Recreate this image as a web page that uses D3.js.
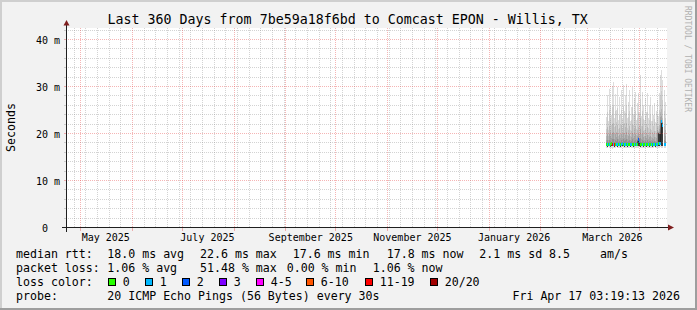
<!DOCTYPE html>
<html>
<head>
<meta charset="utf-8">
<script src="https://cdn.jsdelivr.net/npm/d3@7"></script>
<style>
  html, body { margin: 0; padding: 0; background: #f2f2f2; }
  svg { display: block; }
  text { font-family: "DejaVu Sans Mono", monospace; fill: #000; }
</style>
</head>
<body>
<svg id="chart"></svg>
<script>
const width = 697; // whole image
const height = 310;

// graph time range (360 days ending at the timestamp)
const endTime = new Date(Date.UTC(2026, 3, 17, 3, 19, 13));
const startTime = new Date(endTime.getTime() - 360 * 864e5);
// first column with data, one column per rrd step
const dataStart = new Date(Date.UTC(2026, 2, 12, 3, 19, 13));
const stepMs = 0.6 * 864e5;

// smoke: sorted ping values per column (ms), null = no data
const pingMax = [23.7, 28.3, 22.8, 29.5, 26.0, 24.1, 30.2, 31.0, 23.5, 28.6,
  25.2, 30.1, 22.9, 27.8, 24.3, 29.4, 23.1, 30.4, 25.0, 28.2,
  30.6, 23.4, 26.9, 29.4, 22.7, 25.8, 30.0, 24.2, 27.6, 29.0,
  23.0, 26.5, 28.7, 24.4, 32.6, 23.9, 29.0, 26.1, 22.9, 27.6,
  24.6, 28.7, 23.3, 26.2, 27.9, 22.8, 25.9, 24.1, 26.5, 22.6,
  25.0, 27.2, 23.8, 28.7, 32.6, 33.6, 31.5, null, 29.4, 26.9];
const ping19 = [21.0, 24.6, 20.9, 25.1, 23.2, 21.9, 25.8, 26.1, 21.4, 24.8,
  22.5, 25.6, 21.0, 24.1, 22.0, 25.2, 21.2, 25.9, 22.4, 24.5,
  26.0, 21.3, 23.6, 25.0, 20.8, 22.9, 25.7, 21.9, 24.0, 24.9,
  21.1, 23.4, 24.7, 22.0, 27.5, 21.6, 24.9, 23.1, 20.9, 23.9,
  22.1, 24.6, 21.2, 23.0, 24.1, 20.9, 22.8, 21.8, 23.2, 20.7,
  22.3, 24.0, 21.6, 25.1, 28.0, 29.1, 27.2, null, 25.0, 23.5];
const ping18 = [19.6, 21.5, 19.5, 21.8, 20.8, 20.1, 22.1, 22.4, 19.9, 21.6,
  20.4, 22.0, 19.6, 21.2, 20.1, 21.9, 19.7, 22.2, 20.3, 21.4,
  22.3, 19.8, 20.9, 21.8, 19.5, 20.6, 22.0, 20.0, 21.1, 21.7,
  19.7, 20.8, 21.5, 20.1, 23.4, 19.9, 21.7, 20.6, 19.5, 21.0,
  20.2, 21.4, 19.7, 20.5, 21.1, 19.4, 20.4, 19.9, 20.6, 19.3,
  20.1, 21.5, 20.6, 21.9, 24.6, 25.3, 23.4, null, 21.8, 20.8];
const ping17 = [18.8, 19.9, 18.8, 20.1, 19.5, 19.1, 20.3, 20.5, 19.0, 19.9,
  19.3, 20.2, 18.9, 19.7, 19.1, 20.1, 18.9, 20.3, 19.2, 19.8,
  20.4, 19.0, 19.5, 20.1, 18.8, 19.4, 20.2, 19.1, 19.6, 20.0,
  18.9, 19.5, 19.9, 19.1, 21.0, 19.0, 20.0, 19.4, 18.8, 19.6,
  19.2, 19.8, 18.9, 19.3, 19.6, 18.7, 19.2, 19.0, 19.4, 18.6,
  19.1, 20.8, 20.4, 21.0, 23.6, 23.8, 21.6, null, 20.1, 19.6];
const ping16 = [18.3, 18.7, 18.3, 18.8, 18.6, 18.4, 18.9, 19.0, 18.4, 18.7,
  18.5, 18.9, 18.3, 18.6, 18.4, 18.8, 18.3, 18.9, 18.5, 18.7,
  18.9, 18.4, 18.6, 18.8, 18.3, 18.5, 18.9, 18.4, 18.6, 18.7,
  18.3, 18.6, 19.4, 18.9, 19.2, 18.4, 18.7, 18.5, 18.3, 18.6,
  18.4, 18.7, 18.3, 18.5, 18.6, 18.2, 18.5, 18.4, 18.5, 18.2,
  18.4, 20.5, 20.3, 20.4, 23.0, 23.0, 19.5, null, 18.8, 18.6];
// innermost pings around the median (darkest smoke)
const ping12 = [17.9, 17.8, 17.9, 17.9, 17.8, 18.0, 17.9, 17.9, 17.8, 17.9,
  17.9, 17.8, 17.9, 17.9, 17.8, 17.9, 18.0, 17.9, 17.8, 17.9,
  17.9, 17.8, 17.9, 17.9, 17.8, 17.9, 17.9, 17.8, 17.9, 17.9,
  17.9, 17.9, 19.0, 18.5, 17.8, 17.9, 17.9, 17.8, 17.9, 17.9,
  17.8, 17.9, 17.9, 17.8, 17.9, 17.9, 17.8, 17.9, 17.9, 17.8,
  17.9, 18.0, 20.3, 19.9, 20.1, 22.6, 22.0, null, 17.9, 17.9];
const pingLow = [17.4, 17.3, 17.4, 17.4, 17.3, 17.5, 17.4, 17.4, 17.3, 17.4,
  17.4, 17.3, 17.4, 17.4, 17.3, 17.4, 17.5, 17.4, 17.3, 17.4,
  17.4, 17.3, 17.4, 17.4, 17.3, 17.4, 17.4, 17.3, 17.4, 17.4,
  17.4, 17.4, 17.5, 17.4, 17.3, 17.4, 17.4, 17.3, 17.4, 17.4,
  17.3, 17.4, 17.4, 17.3, 17.4, 17.4, 17.3, 17.4, 17.4, 17.3,
  17.4, 17.5, 17.4, 17.5, 17.6, 17.5, 17.4, null, 17.4, 17.4];
const pingMin = [17.1, 17.0, 17.2, 17.0, 17.1, 17.0, 16.9, 17.1, 17.0, 17.1,
  17.2, 17.0, 17.1, 17.0, 17.1, 17.0, 17.2, 17.1, 17.0, 17.1,
  17.0, 17.1, 17.0, 17.1, 17.2, 17.0, 17.1, 17.0, 17.1, 17.0,
  17.1, 17.0, 17.1, 17.2, 17.0, 17.1, 17.0, 17.1, 17.0, 17.1,
  17.2, 17.0, 17.1, 17.0, 17.1, 17.0, 17.1, 17.0, 17.2, 17.1,
  17.0, 17.1, 17.0, 17.1, 17.2, 17.1, 17.0, null, 17.1, 17.0];
const median = [17.8, 17.7, 17.8, 17.8, 17.7, 17.9, 17.8, 17.8, 17.7, 17.8,
  17.8, 17.7, 17.8, 17.8, 17.7, 17.8, 17.9, 17.8, 17.7, 17.8,
  17.8, 17.7, 17.8, 17.8, 17.7, 17.8, 17.8, 17.7, 17.8, 17.8,
  17.8, 17.8, 18.9, 18.3, 17.7, 17.8, 17.8, 17.7, 17.8, 17.8,
  17.7, 17.8, 17.8, 17.7, 17.8, 17.8, 17.7, 17.8, 17.8, 17.7,
  17.8, 17.8, 17.9, 18.0, 17.9, 22.6, 21.9, null, 17.8, 17.8];
// lost pings (of 20) per column
const lossCount = [0, 1, 0, 1, 0, 0, 12, 1, 11, 0,
  1, 1, 0, 1, 0, 1, 1, 0, 1, 1,
  0, 1, 0, 0, 1, 1, 0, 0, 1, 0,
  1, 0, 2, 1, 0, 0, 1, 0, 0, 1,
  0, 0, 1, 0, 0, 1, 0, 1, 1, 0,
  1, 1, 0, 1, 1, 1, 1, null, 1, 1];

const yTicks = [0, 10, 20, 30, 40];
// rrdtool pads the unit slot with blanks when there is no SI prefix
const yTickLabels = ["0\u00a0\u00a0", "10 m", "20 m", "30 m", "40 m"];

const lossLabels = ["0", "1", "2", "3", "4-5", "6-10", "11-19", "20/20"];
const lossColors = ["#26ff00", "#00b8ff", "#0059ff", "#7e00ff", "#ff00ff", "#ff5500", "#ff0000", "#a10000"];
const lossLimits = [0, 1, 2, 3, 5, 10, 19, 20];

const title = "Last 360 Days from 7be59a18f6bd to Comcast EPON - Willis, TX";

const svg = d3.select("#chart")
    .attr("width", width)
    .attr("height", height);

// canvas box
const x0 = 66, x1 = 666, yTop = 28, yBot = 228;

const x = d3.scaleTime().domain([startTime, endTime]).range([x0, x1]);
const y = d3.scaleLinear().domain([0, 200 / 4.7]).range([yBot, yTop]);

const colTime = i => new Date(dataStart.getTime() + i * stepMs);
const colW = x(new Date(startTime.getTime() + stepMs)) - x0;

// background + 3d border
svg.append("rect").attr("width", width).attr("height", height).attr("fill", "#f2f2f2");
svg.append("path").attr("d", `M0,0H${width}V2H2V${height}H0Z`).attr("fill", "#cfcfcf");
svg.append("path").attr("d", `M${width},0V${height}H0V${height - 2}H${width - 2}V0Z`).attr("fill", "#9e9e9e");
svg.append("rect")
    .attr("x", x0).attr("y", yTop)
    .attr("width", x1 - x0 + 1).attr("height", yBot - yTop)
    .attr("fill", "#ffffff");

// smoke bands, outer first, inner drawn on top
const bands = [
    { hi: pingMax, lo: pingMin, color: "#dddddd" },
    { hi: ping19, lo: pingLow, color: "#cacaca" },
    { hi: ping18, lo: pingLow, color: "#b7b7b7" },
    { hi: ping17, lo: pingLow, color: "#a4a4a4" },
    { hi: ping16, lo: pingLow, color: "#919191" },
    { hi: ping12, lo: pingLow, color: "#3a3a3a" }
];

const smoke = svg.append("g").attr("shape-rendering", "crispEdges");
bands.forEach(band => {
    smoke.append("g").selectAll("rect")
        .data(band.hi.map((v, i) => ({ i, hi: v, lo: band.lo[i] })).filter(d => d.hi != null))
        .join("rect")
        .attr("x", d => x(colTime(d.i)))
        .attr("width", colW)
        .attr("y", d => y(d.hi))
        .attr("height", d => y(d.lo) - y(d.hi))
        .attr("fill", band.color);
});

// median line
const line = d3.line()
    .defined(d => d != null)
    .x((d, i) => x(colTime(i)) + colW / 2)
    .y(d => y(d));

svg.append("path")
    .datum(median)
    .attr("d", line)
    .attr("fill", "none")
    .attr("stroke", "#202020")
    .attr("stroke-width", 1);

// loss coloured median blocks
const lossColor = n => lossColors[lossLimits.findIndex(l => n <= l)];

svg.append("g").attr("shape-rendering", "crispEdges")
    .selectAll("rect")
    .data(median.map((v, i) => ({ i, v, loss: lossCount[i] })).filter(d => d.v != null))
    .join("rect")
    .attr("x", d => x(colTime(d.i)))
    .attr("width", colW)
    .attr("y", d => y(d.v) - 1.5)
    .attr("height", 3)
    .attr("fill", d => lossColor(d.loss));

// grid
const gridMinor = "rgba(140,140,140,0.38)";
const gridMajor = "rgba(230,60,60,0.38)";
const grid = svg.append("g").attr("shape-rendering", "crispEdges");

const weeks = d3.utcSunday.range(startTime, endTime).filter(d => d.getUTCDate() !== 1);
const months = d3.utcMonth.range(startTime, endTime);
const yMinor = d3.range(2, 42.6, 2).filter(v => v % 10 !== 0);

const vx = d => Math.floor(x(d)) + 0.5;
const hy = v => Math.round(y(v)) - 0.5;

grid.selectAll(".vminor").data(weeks).join("line")
    .attr("class", "vminor")
    .attr("x1", vx).attr("x2", vx).attr("y1", yTop).attr("y2", yBot)
    .attr("stroke", gridMinor).attr("stroke-dasharray", "1,1");
grid.selectAll(".hminor").data(yMinor).join("line")
    .attr("class", "hminor")
    .attr("x1", x0).attr("x2", x1 + 1).attr("y1", hy).attr("y2", hy)
    .attr("stroke", gridMinor).attr("stroke-dasharray", "1,1");
grid.selectAll(".vmajor").data(months).join("line")
    .attr("class", "vmajor")
    .attr("x1", vx).attr("x2", vx).attr("y1", yTop).attr("y2", yBot)
    .attr("stroke", gridMajor).attr("stroke-dasharray", "1,1");
grid.selectAll(".hmajor").data(yTicks.slice(1)).join("line")
    .attr("class", "hmajor")
    .attr("x1", x0).attr("x2", x1 + 1).attr("y1", hy).attr("y2", hy)
    .attr("stroke", gridMajor).attr("stroke-dasharray", "1,1");

// small ticks on the axes
grid.selectAll(".ytick").data(yMinor.concat(yTicks.slice(1))).join("line")
    .attr("class", "ytick")
    .attr("x1", x0 - 2).attr("x2", x0).attr("y1", hy).attr("y2", hy)
    .attr("stroke", d => d % 10 === 0 ? gridMajor : gridMinor);
grid.selectAll(".xtick").data(months).join("line")
    .attr("class", "xtick")
    .attr("x1", vx).attr("x2", vx).attr("y1", yBot).attr("y2", yBot + 3)
    .attr("stroke", gridMajor);

// axes with arrows
const axes = svg.append("g").attr("shape-rendering", "crispEdges");
axes.append("line")
    .attr("x1", x0 - 4).attr("x2", x1 + 4)
    .attr("y1", yBot - 0.5).attr("y2", yBot - 0.5)
    .attr("stroke", "#1f1f1f");
axes.append("line")
    .attr("x1", x0 + 0.5).attr("x2", x0 + 0.5)
    .attr("y1", yBot + 4).attr("y2", yTop - 6)
    .attr("stroke", "#1f1f1f");
svg.append("path")
    .attr("d", `M${x0 - 2.5},${yTop - 2.5}L${x0 + 3.5},${yTop - 2.5}L${x0 + 0.5},${yTop - 8}Z`)
    .attr("fill", "#7f1f1f");
svg.append("path")
    .attr("d", `M${x1 + 2},${yBot - 3.5}L${x1 + 2},${yBot + 2.5}L${x1 + 8},${yBot - 0.5}Z`)
    .attr("fill", "#7f1f1f");

// axis labels
svg.selectAll(".ylabel").data(yTicks).join("text")
    .attr("class", "ylabel")
    .attr("x", 60)
    .attr("y", d => y(d) + 3.5)
    .attr("text-anchor", "end")
    .style("font-size", "10px")
    .style("white-space", "pre")
    .text((d, i) => yTickLabels[i]);

const labelMonths = d3.utcMonth.every(2).range(startTime, endTime)
    .map(d => d3.utcDay.offset(d, 15))
    .filter(d => d > startTime && d < endTime);

svg.selectAll(".xlabel").data(labelMonths).join("text")
    .attr("class", "xlabel")
    .attr("x", d => x(d))
    .attr("y", 240.5)
    .attr("text-anchor", "middle")
    .style("font-size", "10px")
    .text(d => d3.utcFormat("%B %Y")(d3.utcDay.offset(d, -15)));

svg.append("text")
    .attr("x", 347.7).attr("y", 24)
    .attr("text-anchor", "middle")
    .style("font-size", "13.3px")
    .text(title);

svg.append("text")
    .attr("transform", "translate(14.5,127.5) rotate(-90)")
    .attr("text-anchor", "middle")
    .style("font-size", "11.6px")
    .text("Seconds");

svg.append("text")
    .attr("transform", "translate(685,59) rotate(90)")
    .attr("text-anchor", "middle")
    .style("font-size", "8px")
    .style("fill", "#b0b0b0")
    .text("RRDTOOL / TOBI OETIKER");

// legend
const legendFont = "11.6px";
const legendRows = [
    [[16, 258, "median rtt:"], [107.3, 258, "18.0 ms avg"], [200, 258, "22.6 ms max"],
     [292.7, 258, "17.6 ms min"], [386.7, 258, "17.8 ms now"], [479.3, 258, "2.1 ms sd"],
     [549, 258, "8.5"], [600, 258, "am/s"]],
    [[16, 272, "packet loss:"], [107.3, 272, "1.06 % avg"], [200, 272, "51.48 % max"],
     [286.7, 272, "0.00 % min"], [372.7, 272, "1.06 % now"]],
    [[16, 286, "loss color:"]],
    [[16, 300, "probe:"], [107.3, 300, "20 ICMP Echo Pings (56 Bytes) every 30s"]]
];

svg.append("g").selectAll("text")
    .data(legendRows.flat())
    .join("text")
    .attr("x", d => d[0])
    .attr("y", d => d[1])
    .style("font-size", legendFont)
    .text(d => d[2]);

svg.append("text")
    .attr("x", 680).attr("y", 300)
    .attr("text-anchor", "end")
    .style("font-size", legendFont)
    .text("Fri Apr 17 03:19:13 2026");

const lossLegendX = [108, 145, 182, 219, 256, 306, 365, 430];
const lossItems = svg.append("g").selectAll("g")
    .data(lossLabels)
    .join("g")
    .attr("transform", (d, i) => `translate(${lossLegendX[i]},278)`);

lossItems.append("rect")
    .attr("x", 0.5).attr("y", 0.5)
    .attr("width", 7).attr("height", 7)
    .attr("fill", (d, i) => lossColors[i])
    .attr("stroke", "#000")
    .attr("shape-rendering", "crispEdges");

lossItems.append("text")
    .attr("x", 14.7).attr("y", 8)
    .style("font-size", legendFont)
    .text(d => d);
</script>
</body>
</html>
